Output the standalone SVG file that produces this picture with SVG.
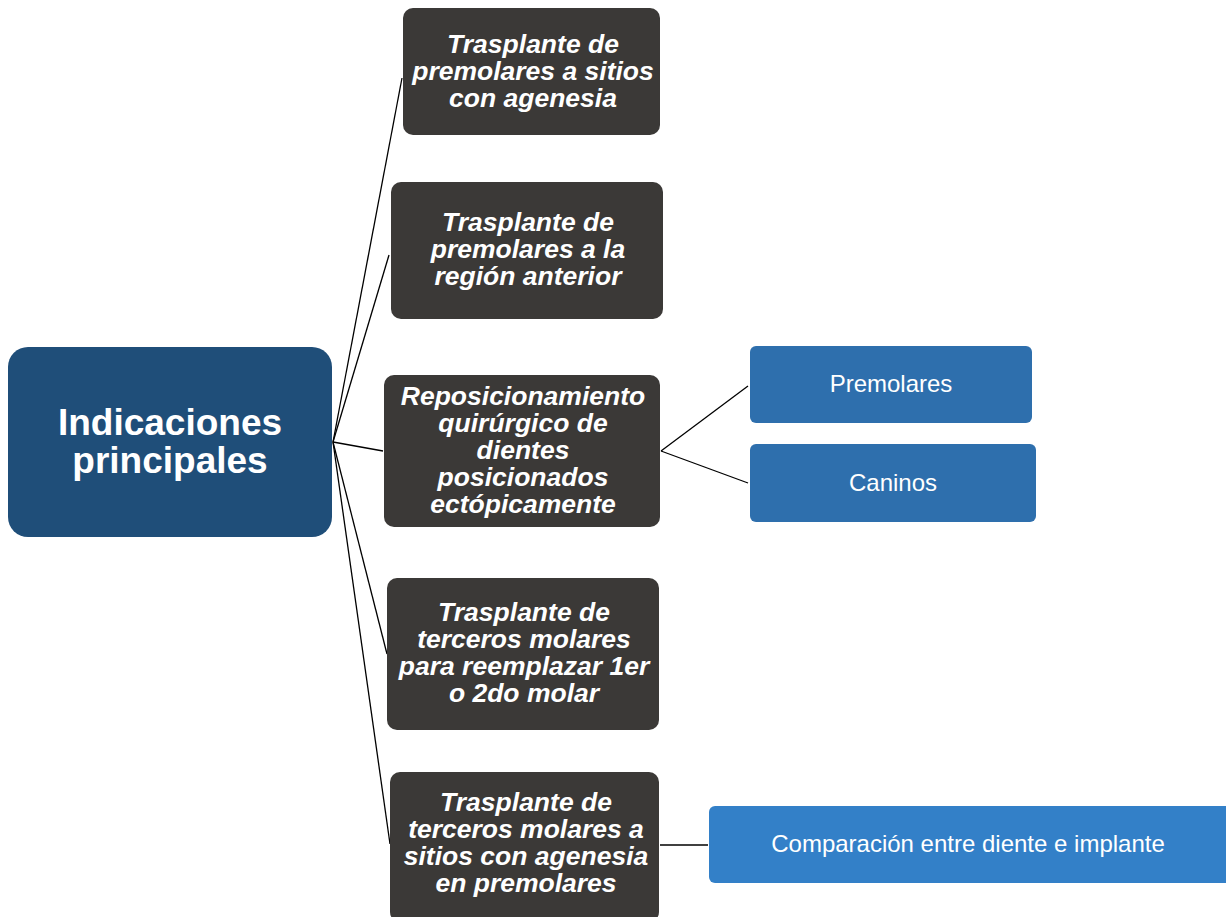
<svg xmlns="http://www.w3.org/2000/svg" width="1226" height="917" viewBox="0 0 1226 917">
<style>
.root{fill:#1f4e79}
.dark{fill:#3b3937}
.blue{fill:#2e6fad}
.blue2{fill:#3380c8}
.rt{font-family:"Liberation Sans",Arial,sans-serif;font-weight:bold;font-size:37px;fill:#ffffff;text-anchor:middle}
.dt{font-family:"Liberation Sans",Arial,sans-serif;font-weight:bold;font-style:italic;font-size:26.5px;fill:#ffffff;text-anchor:middle}
.bt{font-family:"Liberation Sans",Arial,sans-serif;font-size:24px;fill:#ffffff;text-anchor:middle}
.conn line{stroke:#000000;stroke-width:1.3}
</style>
<rect width="1226" height="917" fill="#ffffff"/>
<g id="connectors" class="conn">
<line x1="333" y1="442" x2="402" y2="78"/>
<line x1="333" y1="442" x2="389" y2="255"/>
<line x1="333" y1="442" x2="383" y2="451"/>
<line x1="333" y1="442" x2="387" y2="654"/>
<line x1="333" y1="442" x2="390" y2="844"/>
<line x1="661" y1="451" x2="748" y2="386"/>
<line x1="661" y1="451" x2="748" y2="483"/>
<line x1="660" y1="845" x2="708" y2="845"/>
</g>
<g id="root">
<rect class="root" x="8" y="347" width="324" height="190" rx="20"/>
<text class="rt" x="170" y="435">Indicaciones</text>
<text class="rt" x="170" y="473">principales</text>
</g>
<g id="n1">
<rect class="dark" x="403" y="8" width="257" height="127" rx="10"/>
<text class="dt" x="533" y="53">Trasplante de</text>
<text class="dt" x="533" y="80">premolares a sitios</text>
<text class="dt" x="533" y="107">con agenesia</text>
</g>
<g id="n2">
<rect class="dark" x="391" y="182" width="272" height="137" rx="10"/>
<text class="dt" x="528" y="231">Trasplante de</text>
<text class="dt" x="528" y="258">premolares a la</text>
<text class="dt" x="528" y="285">región anterior</text>
</g>
<g id="n3">
<rect class="dark" x="384" y="375" width="276" height="152" rx="10"/>
<text class="dt" x="523" y="405">Reposicionamiento</text>
<text class="dt" x="523" y="432">quirúrgico de</text>
<text class="dt" x="523" y="459">dientes</text>
<text class="dt" x="523" y="486">posicionados</text>
<text class="dt" x="523" y="513">ectópicamente</text>
</g>
<g id="n4">
<rect class="dark" x="387" y="578" width="272" height="152" rx="10"/>
<text class="dt" x="524" y="621">Trasplante de</text>
<text class="dt" x="524" y="648">terceros molares</text>
<text class="dt" x="524" y="675">para reemplazar 1er</text>
<text class="dt" x="524" y="702">o 2do molar</text>
</g>
<g id="n5">
<rect class="dark" x="390" y="772" width="269" height="150" rx="10"/>
<text class="dt" x="526" y="811">Trasplante de</text>
<text class="dt" x="526" y="838">terceros molares a</text>
<text class="dt" x="526" y="865">sitios con agenesia</text>
<text class="dt" x="526" y="892">en premolares</text>
</g>
<g id="premolares">
<rect class="blue" x="750" y="346" width="282" height="77" rx="6"/>
<text class="bt" x="891" y="392">Premolares</text>
</g>
<g id="caninos">
<rect class="blue" x="750" y="444" width="286" height="78" rx="6"/>
<text class="bt" x="893" y="491">Caninos</text>
</g>
<g id="comparacion">
<rect class="blue2" x="709" y="806" width="530" height="77" rx="6"/>
<text class="bt" x="968" y="852">Comparación entre diente e implante</text>
</g>
</svg>
